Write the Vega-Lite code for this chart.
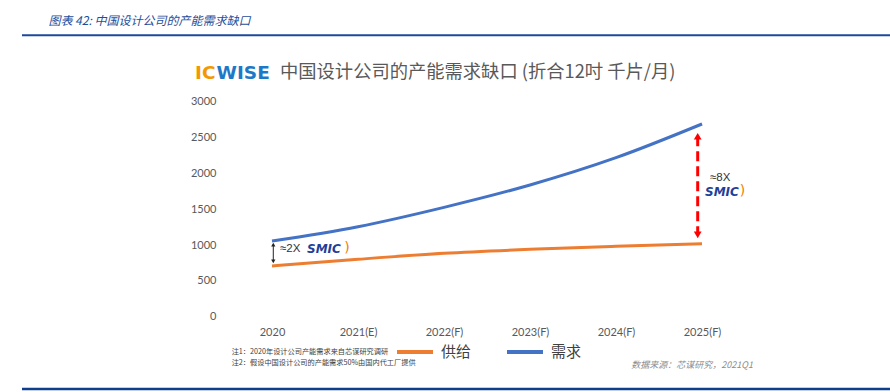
{
  "$schema": "https://vega.github.io/schema/vega-lite/v6.json",
  "width": 660,
  "height": 322,
  "autosize": {"type": "none"},
  "padding": {"left": 230, "top": 0, "right": 0, "bottom": 70},
  "background": "white",
  "config": {"view": {"stroke": null}, "font": "Lato"},
  "layer": [
    {
      "data": {"values": [
        {"year": 2020, "series": "供给", "value": 707},
        {"year": 2021, "series": "供给", "value": 801},
        {"year": 2022, "series": "供给", "value": 884},
        {"year": 2023, "series": "供给", "value": 940},
        {"year": 2024, "series": "供给", "value": 982},
        {"year": 2025, "series": "供给", "value": 1019},
        {"year": 2020, "series": "需求", "value": 1056},
        {"year": 2021, "series": "需求", "value": 1256},
        {"year": 2022, "series": "需求", "value": 1526},
        {"year": 2023, "series": "需求", "value": 1838},
        {"year": 2024, "series": "需求", "value": 2219},
        {"year": 2025, "series": "需求", "value": 2689}
      ]},
      "mark": {"type": "line", "strokeWidth": 3, "interpolate": "monotone"},
      "encoding": {
        "x": {"field": "year", "type": "quantitative",
          "scale": {"domain": [2019.5116, 2027.186], "nice": false, "zero": false},
          "axis": {"values": [2020, 2021, 2022, 2023, 2024, 2025], "title": null, "grid": false, "domain": false, "ticks": false,
            "labelExpr": "datum.value == 2020 ? '2020' : datum.value == 2021 ? '2021(E)' : datum.value + '(F)'",
            "labelFont": "Lato", "labelFontSize": 11, "labelColor": "#595959", "labelPadding": 4}},
        "y": {"field": "value", "type": "quantitative",
          "scale": {"domain": [-74, 4419], "nice": false, "zero": false},
          "axis": {"values": [0, 500, 1000, 1500, 2000, 2500, 3000], "format": "d", "title": null, "grid": false, "domain": false, "ticks": false,
            "labelFont": "Lato", "labelFontSize": 11, "labelColor": "#595959", "labelPadding": 14}},
        "color": {"field": "series", "type": "nominal",
          "scale": {"domain": ["供给", "需求"], "range": ["#ED7D31", "#4472C4"]},
          "legend": {"orient": "none", "legendX": 165, "legendY": 332, "direction": "horizontal", "title": null,
            "symbolType": "stroke", "symbolSize": 1296, "symbolStrokeWidth": 4, "labelFontSize": 15,
            "labelFont": "Noto Sans CJK SC", "labelColor": "#404040", "labelOffset": 6, "columnPadding": 27, "padding": 0}}
      }
    },
    {
      "data": {"values": [{}]},
      "mark": {"type": "rule", "strokeWidth": 2, "color": "#1B4A9A"},
      "encoding": {
        "x": {"datum": 2017.093, "type": "quantitative", "scale": {"domain": [2019.5116, 2027.186], "nice": false, "zero": false}},
        "x2": {"datum": 2027.186},
        "y": {"datum": 3926, "type": "quantitative", "scale": {"domain": [-74, 4419], "nice": false, "zero": false}}
      }
    },
    {
      "data": {"values": [{}]},
      "mark": {"type": "rule", "strokeWidth": 2.5, "color": "#0E3F8C"},
      "encoding": {
        "x": {"datum": 2017.093, "type": "quantitative", "scale": {"domain": [2019.5116, 2027.186], "nice": false, "zero": false}},
        "x2": {"datum": 2027.186},
        "y": {"datum": -1010, "type": "quantitative", "scale": {"domain": [-74, 4419], "nice": false, "zero": false}}
      }
    },
    {
      "data": {"values": [{}]},
      "mark": {"type": "text", "align": "left", "baseline": "middle", "font": "Noto Sans CJK SC", "fontSize": 12, "fontStyle": "italic", "color": "#1F4E9A"},
      "encoding": {
        "x": {"datum": 2017.40, "type": "quantitative", "scale": {"domain": [2019.5116, 2027.186], "nice": false, "zero": false}},
        "y": {"datum": 4130, "type": "quantitative", "scale": {"domain": [-74, 4419], "nice": false, "zero": false}},
        "text": {"value": "图表 42:  中国设计公司的产能需求缺口"}
      }
    },
    {
      "data": {"values": [{}]},
      "mark": {"type": "text", "align": "left", "baseline": "middle", "font": "DejaVu Sans", "fontWeight": "bold", "fontSize": 18.5, "color": "#F39800"},
      "encoding": {
        "x": {"datum": 2019.105, "type": "quantitative", "scale": {"domain": [2019.5116, 2027.186], "nice": false, "zero": false}},
        "y": {"datum": 3396, "type": "quantitative", "scale": {"domain": [-74, 4419], "nice": false, "zero": false}},
        "text": {"value": "IC"}
      }
    },
    {
      "data": {"values": [{}]},
      "mark": {"type": "text", "align": "left", "baseline": "middle", "font": "DejaVu Sans", "fontWeight": "bold", "fontSize": 18.5, "color": "#1E78C8"},
      "encoding": {
        "x": {"datum": 2019.355, "type": "quantitative", "scale": {"domain": [2019.5116, 2027.186], "nice": false, "zero": false}},
        "y": {"datum": 3396, "type": "quantitative", "scale": {"domain": [-74, 4419], "nice": false, "zero": false}},
        "text": {"value": "WISE"}
      }
    },
    {
      "data": {"values": [{}]},
      "mark": {"type": "text", "align": "left", "baseline": "middle", "font": "Noto Sans CJK SC", "fontSize": 18.3, "color": "#595959"},
      "encoding": {
        "x": {"datum": 2020.093, "type": "quantitative", "scale": {"domain": [2019.5116, 2027.186], "nice": false, "zero": false}},
        "y": {"datum": 3396, "type": "quantitative", "scale": {"domain": [-74, 4419], "nice": false, "zero": false}},
        "text": {"value": "中国设计公司的产能需求缺口 (折合12吋 千片/月)"}
      }
    },
    {
      "data": {"values": [{}]},
      "mark": {"type": "rule", "strokeWidth": 1, "color": "#222222"},
      "encoding": {
        "x": {"datum": 2020.015, "type": "quantitative", "scale": {"domain": [2019.5116, 2027.186], "nice": false, "zero": false}},
        "y": {"datum": 1005, "type": "quantitative", "scale": {"domain": [-74, 4419], "nice": false, "zero": false}},
        "y2": {"datum": 773}
      }
    },
    {
      "data": {"values": [{}]},
      "mark": {"type": "point", "shape": "triangle-up", "filled": true, "size": 18, "color": "#222222", "opacity": 1},
      "encoding": {
        "x": {"datum": 2020.015, "type": "quantitative", "scale": {"domain": [2019.5116, 2027.186], "nice": false, "zero": false}},
        "y": {"datum": 1005, "type": "quantitative", "scale": {"domain": [-74, 4419], "nice": false, "zero": false}}
      }
    },
    {
      "data": {"values": [{}]},
      "mark": {"type": "point", "shape": "triangle-down", "filled": true, "size": 18, "color": "#222222", "opacity": 1},
      "encoding": {
        "x": {"datum": 2020.015, "type": "quantitative", "scale": {"domain": [2019.5116, 2027.186], "nice": false, "zero": false}},
        "y": {"datum": 773, "type": "quantitative", "scale": {"domain": [-74, 4419], "nice": false, "zero": false}}
      }
    },
    {
      "data": {"values": [{}]},
      "mark": {"type": "text", "align": "left", "baseline": "middle", "font": "Liberation Sans", "fontSize": 11.5, "color": "#333333"},
      "encoding": {
        "x": {"datum": 2020.093, "type": "quantitative", "scale": {"domain": [2019.5116, 2027.186], "nice": false, "zero": false}},
        "y": {"datum": 945, "type": "quantitative", "scale": {"domain": [-74, 4419], "nice": false, "zero": false}},
        "text": {"value": "≈2X"}
      }
    },
    {
      "data": {"values": [{}]},
      "mark": {"type": "text", "align": "left", "baseline": "middle", "font": "DejaVu Sans", "fontWeight": "bold", "fontStyle": "italic", "fontSize": 12, "color": "#1F3F99"},
      "encoding": {
        "x": {"datum": 2020.407, "type": "quantitative", "scale": {"domain": [2019.5116, 2027.186], "nice": false, "zero": false}},
        "y": {"datum": 945, "type": "quantitative", "scale": {"domain": [-74, 4419], "nice": false, "zero": false}},
        "text": {"value": "SMIC"}
      }
    },
    {
      "data": {"values": [{}]},
      "mark": {"type": "text", "align": "left", "baseline": "middle", "font": "DejaVu Sans", "fontSize": 14, "color": "#F08000"},
      "encoding": {
        "x": {"datum": 2020.84, "type": "quantitative", "scale": {"domain": [2019.5116, 2027.186], "nice": false, "zero": false}},
        "y": {"datum": 960, "type": "quantitative", "scale": {"domain": [-74, 4419], "nice": false, "zero": false}},
        "text": {"value": ")"}
      }
    },
    {
      "data": {"values": [{}]},
      "mark": {"type": "rule", "strokeWidth": 3, "color": "#FF0000", "strokeDash": [10, 5]},
      "encoding": {
        "x": {"datum": 2024.95, "type": "quantitative", "scale": {"domain": [2019.5116, 2027.186], "nice": false, "zero": false}},
        "y": {"datum": 2518, "type": "quantitative", "scale": {"domain": [-74, 4419], "nice": false, "zero": false}},
        "y2": {"datum": 1143}
      }
    },
    {
      "data": {"values": [{}]},
      "mark": {"type": "point", "shape": "triangle-up", "filled": true, "size": 60, "color": "#FF0000", "opacity": 1},
      "encoding": {
        "x": {"datum": 2024.95, "type": "quantitative", "scale": {"domain": [2019.5116, 2027.186], "nice": false, "zero": false}},
        "y": {"datum": 2518, "type": "quantitative", "scale": {"domain": [-74, 4419], "nice": false, "zero": false}}
      }
    },
    {
      "data": {"values": [{}]},
      "mark": {"type": "point", "shape": "triangle-down", "filled": true, "size": 60, "color": "#FF0000", "opacity": 1},
      "encoding": {
        "x": {"datum": 2024.95, "type": "quantitative", "scale": {"domain": [2019.5116, 2027.186], "nice": false, "zero": false}},
        "y": {"datum": 1143, "type": "quantitative", "scale": {"domain": [-74, 4419], "nice": false, "zero": false}}
      }
    },
    {
      "data": {"values": [{}]},
      "mark": {"type": "text", "align": "left", "baseline": "middle", "font": "Liberation Sans", "fontSize": 11.5, "color": "#333333"},
      "encoding": {
        "x": {"datum": 2025.093, "type": "quantitative", "scale": {"domain": [2019.5116, 2027.186], "nice": false, "zero": false}},
        "y": {"datum": 1931, "type": "quantitative", "scale": {"domain": [-74, 4419], "nice": false, "zero": false}},
        "text": {"value": "≈8X"}
      }
    },
    {
      "data": {"values": [{}]},
      "mark": {"type": "text", "align": "left", "baseline": "middle", "font": "DejaVu Sans", "fontWeight": "bold", "fontStyle": "italic", "fontSize": 12, "color": "#1F3F99"},
      "encoding": {
        "x": {"datum": 2025.035, "type": "quantitative", "scale": {"domain": [2019.5116, 2027.186], "nice": false, "zero": false}},
        "y": {"datum": 1736, "type": "quantitative", "scale": {"domain": [-74, 4419], "nice": false, "zero": false}},
        "text": {"value": "SMIC"}
      }
    },
    {
      "data": {"values": [{}]},
      "mark": {"type": "text", "align": "left", "baseline": "middle", "font": "DejaVu Sans", "fontSize": 14, "color": "#F08000"},
      "encoding": {
        "x": {"datum": 2025.44, "type": "quantitative", "scale": {"domain": [2019.5116, 2027.186], "nice": false, "zero": false}},
        "y": {"datum": 1751, "type": "quantitative", "scale": {"domain": [-74, 4419], "nice": false, "zero": false}},
        "text": {"value": ")"}
      }
    },
    {
      "data": {"values": [{}]},
      "mark": {"type": "text", "align": "left", "baseline": "middle", "font": "Noto Sans CJK SC", "fontSize": 7.2, "color": "#404040"},
      "encoding": {
        "x": {"datum": 2019.531, "type": "quantitative", "scale": {"domain": [2019.5116, 2027.186], "nice": false, "zero": false}},
        "y": {"datum": -495, "type": "quantitative", "scale": {"domain": [-74, 4419], "nice": false, "zero": false}},
        "text": {"value": "注1：2020年设计公司产能需求来自芯谋研究调研"}
      }
    },
    {
      "data": {"values": [{}]},
      "mark": {"type": "text", "align": "left", "baseline": "middle", "font": "Noto Sans CJK SC", "fontSize": 7.2, "color": "#404040"},
      "encoding": {
        "x": {"datum": 2019.531, "type": "quantitative", "scale": {"domain": [2019.5116, 2027.186], "nice": false, "zero": false}},
        "y": {"datum": -645, "type": "quantitative", "scale": {"domain": [-74, 4419], "nice": false, "zero": false}},
        "text": {"value": "注2：假设中国设计公司的产能需求50%由国内代工厂提供"}
      }
    },
    {
      "data": {"values": [{}]},
      "mark": {"type": "text", "align": "right", "baseline": "middle", "font": "Noto Sans CJK SC", "fontSize": 9, "fontStyle": "italic", "color": "#8C8C8C"},
      "encoding": {
        "x": {"datum": 2025.593, "type": "quantitative", "scale": {"domain": [2019.5116, 2027.186], "nice": false, "zero": false}},
        "y": {"datum": -674, "type": "quantitative", "scale": {"domain": [-74, 4419], "nice": false, "zero": false}},
        "text": {"value": "数据来源：芯谋研究，2021Q1"}
      }
    }
  ]
}
